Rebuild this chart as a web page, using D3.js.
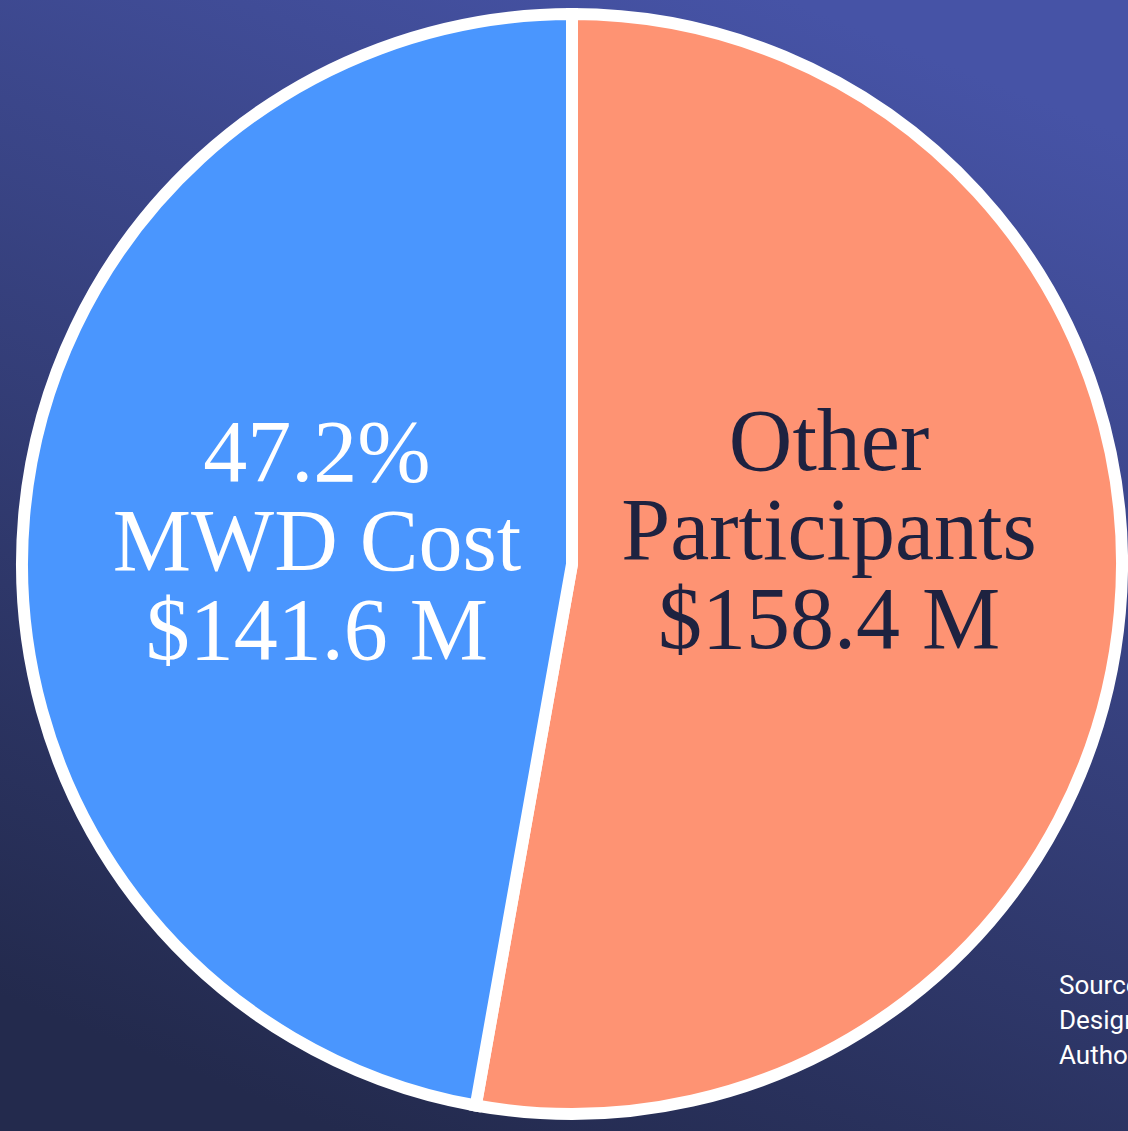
<!DOCTYPE html>
<html>
<head>
<meta charset="utf-8">
<script src="https://cdn.jsdelivr.net/npm/d3@7"></script>
<style>
  html, body { margin: 0; padding: 0; overflow: hidden; }
  svg { display: block; }
</style>
</head>
<body>
<svg id="chart" width="1128" height="1131"></svg>
<script>
// data
const labels = ["Other Participants", "MWD Cost"];
const values = [158.4, 141.6];            // $ millions
const colors = ["#fe9373", "#4a96fe"];
const textColors = ["#1e2240", "#ffffff"];
const sourceLines = ["Source", "Design", "Author"];

const svg = d3.select("#chart"),
      width = +svg.attr("width"),
      height = +svg.attr("height");

// background gradient
const defs = svg.append("defs");
const grad = defs.append("linearGradient")
    .attr("id", "bg")
    .attr("x1", "0.3").attr("y1", "1")
    .attr("x2", "0.7").attr("y2", "0");
grad.append("stop").attr("offset", "0%").attr("stop-color", "#232a4d");
grad.append("stop").attr("offset", "100%").attr("stop-color", "#4653a6");

svg.append("rect")
    .attr("width", width)
    .attr("height", height)
    .attr("fill", "url(#bg)");

const cx = 572, cy = 564, r = 550;
const total = d3.sum(values);

const data = labels.map((l, i) => ({label: l, value: values[i], i}));

const pie = d3.pie()
    .sort(null)
    .value(d => d.value);

const arc = d3.arc().innerRadius(0).outerRadius(r);
const labelArc = d3.arc().innerRadius(255).outerRadius(255);

const g = svg.append("g").attr("transform", `translate(${cx},${cy})`);

const arcs = pie(data);

g.selectAll("path")
  .data(arcs)
  .join("path")
    .attr("d", arc)
    .attr("fill", d => colors[d.data.i])
    .attr("stroke", "#ffffff")
    .attr("stroke-width", 12)
    .attr("stroke-linejoin", "miter");

// slice labels
const fmt = d3.format(".1f");
const lineSets = arcs.map(d => {
  const v = d.data.value;
  if (d.data.label === "MWD Cost")
    return [fmt(v / total * 100) + "%", "MWD Cost", "$" + fmt(v) + " M"];
  return ["Other", "Participants", "$" + fmt(v) + " M"];
});
const yShift = [-27, 28];

const labelsG = g.selectAll("text.slice")
  .data(arcs)
  .join("text")
    .attr("class", "slice")
    .attr("transform", d => {
      const [x, y] = labelArc.centroid(d);
      return `translate(${x + (d.data.i === 0 ? 3 : -1)},${y + yShift[d.data.i]})`;
    })
    .attr("text-anchor", "middle")
    .attr("fill", d => textColors[d.data.i])
    .style("font-family", "'Liberation Serif', 'DejaVu Serif', serif")
    .style("font-size", "88px");

labelsG.each(function(d, k) {
  const t = d3.select(this);
  lineSets[k].forEach((line, j) => {
    t.append("tspan")
      .attr("x", 0)
      .attr("y", (j - 1) * 89)
      .text(line);
  });
});

// source note, clipped at the right edge like the original
svg.append("g")
  .selectAll("text")
  .data(sourceLines)
  .join("text")
    .attr("x", 1059)
    .attr("y", (d, i) => 994 + i * 35)
    .attr("fill", "#ffffff")
    .style("font-family", "Roboto, sans-serif")
    .style("font-size", "26px")
    .text(d => d);
</script>
</body>
</html>
